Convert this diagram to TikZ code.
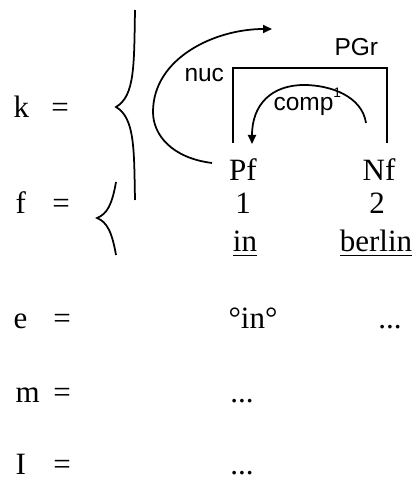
\documentclass[tikz,border=0pt]{standalone}
\usepackage{fontspec}
\setmainfont{Liberation Serif}
\newfontfamily\labelfont{Liberation Sans}
\usetikzlibrary{arrows.meta}

\begin{document}
\begin{tikzpicture}[x=0.4pt, y=-0.4pt,
    word/.style={anchor=base, inner sep=0pt, font=\fontsize{12.4}{14}\selectfont},
    lvl/.style={anchor=base west, inner sep=0pt, font=\fontsize{12.4}{14}\selectfont},
    rel/.style={anchor=base west, inner sep=0pt, font=\labelfont\fontsize{9.8}{12}\selectfont},
    dep/.style={line width=0.7pt, -{Triangle[length=3.6pt, width=3.2pt]}},
    brace/.style={line width=0.7pt}]
    \useasboundingbox (0,0) rectangle (416,478);

    % levels
    \node[lvl] (k) at (13,118) {k};
    \node[word] (keq) at (60,118) {=};
    \node[lvl] (f) at (15,214) {f};
    \node[word] (feq) at (61,214) {=};
    \node[lvl] (e) at (13,328) {e};
    \node[word] (eeq) at (62,328) {=};
    \node[lvl] (m) at (15,402) {m};
    \node[word] (meq) at (62,402) {=};
    \node[lvl] (I) at (15,474) {I};
    \node[word] (Ieq) at (62,474) {=};

    % braces
    \draw[brace] (135,10) .. controls (134,65) and (135,96) .. (116,107)
                          .. controls (135,118) and (134,150) .. (135,200);
    \draw[brace] (116,182) .. controls (112,205) and (107,214) .. (97,218)
                           .. controls (107,222) and (112,232) .. (116,255);

    % words
    \node[word] (Pf) at (243,181) {Pf};
    \node[word] (Nf) at (379,181) {Nf};
    \node[word] (one) at (243,214) {1};
    \node[word] (two) at (377,214) {2};
    \node[word] (in) at (245,252) {\underline{in}};
    \node[word] (berlin) at (376,252) {\underline{berlin}};
    \node[word] (ein) at (253,328) {°in°};
    \node[word] (edots) at (390,328) {...};
    \node[word] (mdots) at (242,402) {...};
    \node[word] (Idots) at (242,474) {...};

    % group and relations
    \node[rel] (PGr) at (334,56) {PGr};
    \node[rel] (nuc) at (184,82) {nuc};
    \node[rel] (comp) at (273,111) {comp\raisebox{0.55em}{\fontsize{5.5}{6}\selectfont 1}};

    \coordinate (pgrL) at (233,143);
    \coordinate (pgrR) at (387,143);
    \draw[brace] (pgrL) -- ++(0,-75) -| (pgrR);

    \coordinate (nucfrom) at (212,163);
    \coordinate (nucto) at (272,29);
    \draw[dep] (nucfrom) .. controls (172,158) and (153,135) .. (153,112)
                         .. controls (153,58) and (215,29) .. (nucto);

    \coordinate (compfrom) at (366,123);
    \coordinate (compto) at (252,144);
    \draw[dep] (compfrom) .. controls (362,96) and (330,85) .. (304,85)
                          .. controls (272,85) and (252,104) .. (compto);
\end{tikzpicture}
\end{document}
